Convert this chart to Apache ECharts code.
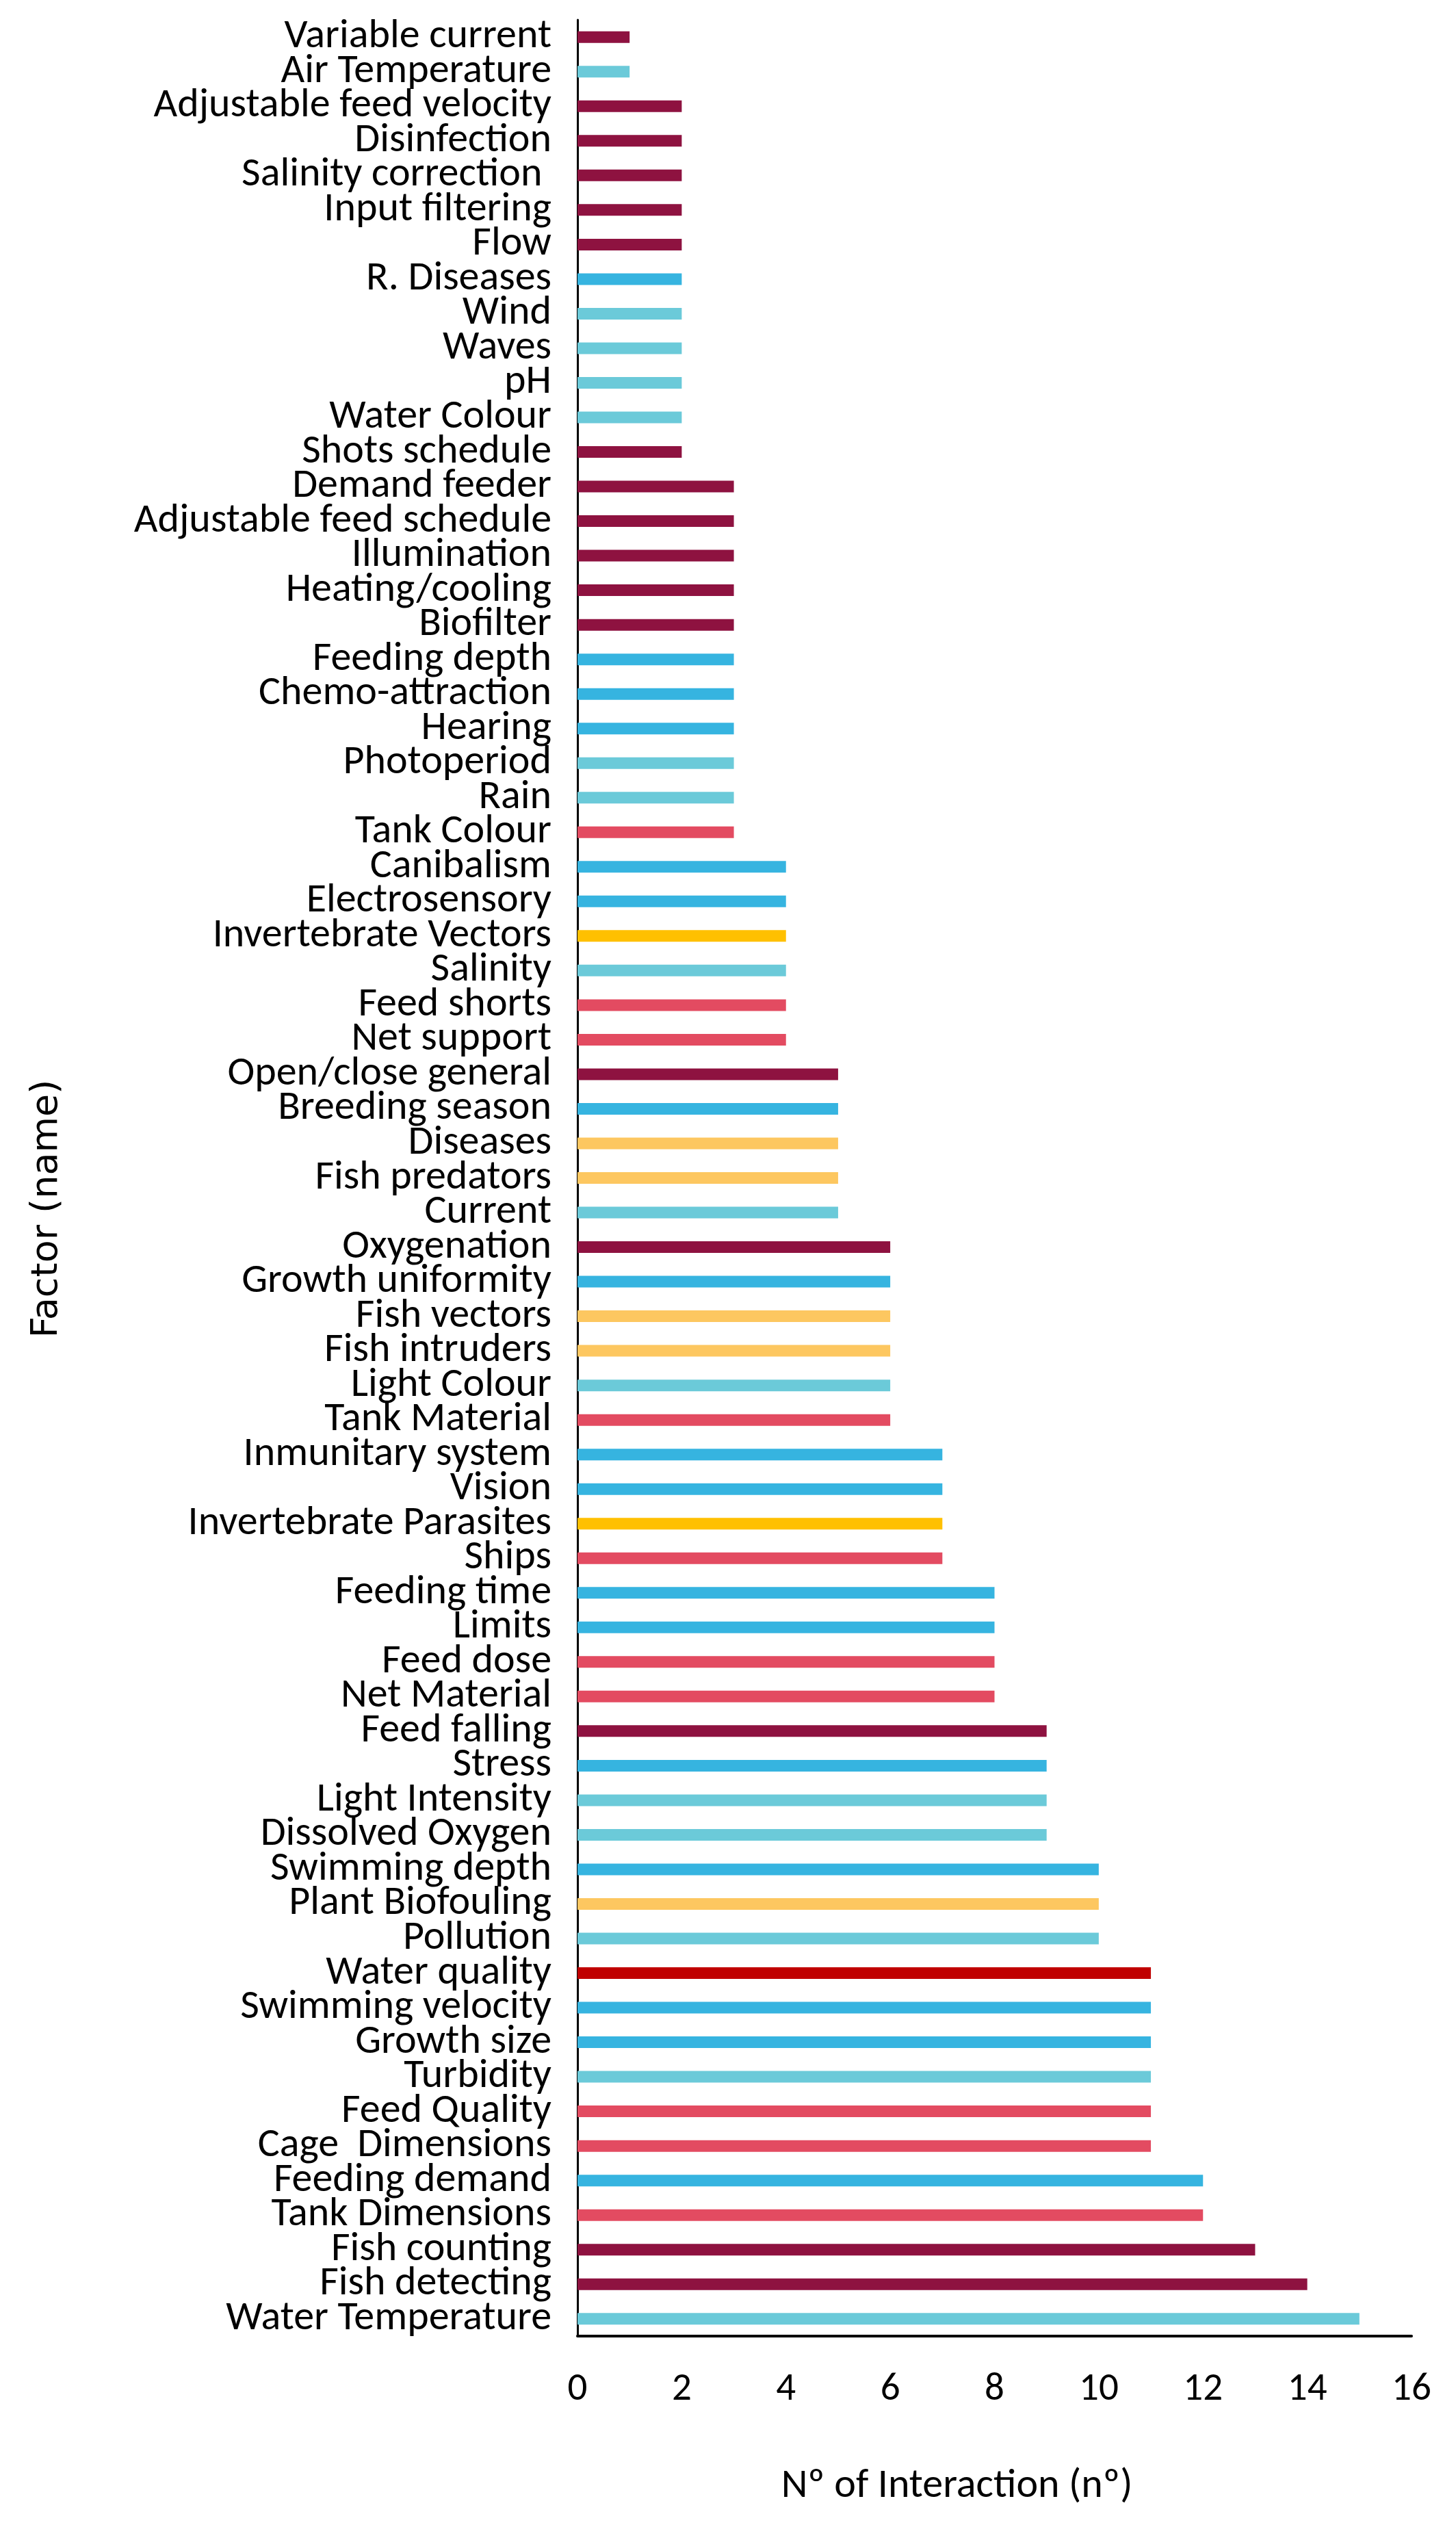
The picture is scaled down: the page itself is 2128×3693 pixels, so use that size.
<!DOCTYPE html>
<html>
<head>
<meta charset="utf-8">
<script src="https://cdn.jsdelivr.net/npm/echarts@6/dist/echarts.min.js"></script>
<style>
html,body{margin:0;padding:0;background:#fff;}
#chart{width:2128px;height:3693px;}
</style>
</head>
<body>
<div id="chart"></div>
<script>
// Factors listed top to bottom as in the figure
const factors = [
  "Variable current", "Air Temperature", "Adjustable feed velocity", "Disinfection",
  "Salinity correction ", "Input filtering", "Flow", "R. Diseases", "Wind", "Waves",
  "pH", "Water Colour", "Shots schedule", "Demand feeder", "Adjustable feed schedule",
  "Illumination", "Heating/cooling", "Biofilter", "Feeding depth", "Chemo-attraction",
  "Hearing", "Photoperiod", "Rain", "Tank Colour", "Canibalism", "Electrosensory",
  "Invertebrate Vectors", "Salinity", "Feed shorts", "Net support", "Open/close general",
  "Breeding season", "Diseases", "Fish predators", "Current", "Oxygenation",
  "Growth uniformity", "Fish vectors", "Fish intruders", "Light Colour", "Tank Material",
  "Inmunitary system", "Vision", "Invertebrate Parasites", "Ships", "Feeding time",
  "Limits", "Feed dose", "Net Material", "Feed falling", "Stress", "Light Intensity",
  "Dissolved Oxygen", "Swimming depth", "Plant Biofouling", "Pollution", "Water quality",
  "Swimming velocity", "Growth size", "Turbidity", "Feed Quality", "Cage  Dimensions",
  "Feeding demand", "Tank Dimensions", "Fish counting", "Fish detecting", "Water Temperature"
];
const interactions = [
  1, 1, 2, 2, 2, 2, 2, 2, 2, 2,
  2, 2, 2, 3, 3, 3, 3, 3, 3, 3,
  3, 3, 3, 3, 4, 4, 4, 4, 4, 4,
  5, 5, 5, 5, 5, 6, 6, 6, 6, 6,
  6, 7, 7, 7, 7, 8, 8, 8, 8, 9,
  9, 9, 9, 10, 10, 10, 11, 11, 11, 11,
  11, 11, 12, 12, 13, 14, 15
];
// factor group: tech = technology, env = environment, bio = biology,
// inst = installation, inv = invertebrate, oth = other organisms, wq = water quality
const groups = [
  "tech", "env", "tech", "tech", "tech", "tech", "tech", "bio", "env", "env",
  "env", "env", "tech", "tech", "tech", "tech", "tech", "tech", "bio", "bio",
  "bio", "env", "env", "inst", "bio", "bio", "inv", "env", "inst", "inst",
  "tech", "bio", "oth", "oth", "env", "tech", "bio", "oth", "oth", "env",
  "inst", "bio", "bio", "inv", "inst", "bio", "bio", "inst", "inst", "tech",
  "bio", "env", "env", "bio", "oth", "env", "wq", "bio", "bio", "env",
  "inst", "inst", "bio", "inst", "tech", "tech", "env"
];
const xTicks = [0, 2, 4, 6, 8, 10, 12, 14, 16];

const groupColors = {
  tech: "#8E1240", env: "#6BCAD9", bio: "#36B4E0", inst: "#E34B61",
  inv: "#FFC000", oth: "#FDC760", wq: "#C00000"
};

const labelFont = "Carlito, 'Liberation Sans Narrow', 'Liberation Sans', sans-serif";

const chart = echarts.init(document.getElementById('chart'), null, {renderer: 'canvas'});
chart.setOption({
  backgroundColor: '#ffffff',
  animation: false,
  grid: {left: 844, right: 65, top: 29, bottom: 279, containLabel: false},
  xAxis: {
    type: 'value',
    min: xTicks[0], max: xTicks[xTicks.length - 1], interval: 2,
    axisLine: {show: true, lineStyle: {color: '#000', width: 4}},
    axisTick: {show: false},
    splitLine: {show: false},
    axisLabel: {color: '#000', fontFamily: labelFont, fontSize: 57, margin: 50},
    name: 'Nº of Interaction (nº)',
    nameLocation: 'middle',
    nameGap: 190,
    nameTextStyle: {color: '#000', fontFamily: labelFont, fontSize: 60, padding: [0, 110, 0, 0]}
  },
  yAxis: {
    type: 'category',
    inverse: true,
    data: factors,
    axisLine: {show: true, lineStyle: {color: '#000', width: 3}},
    axisTick: {show: false},
    splitLine: {show: false},
    axisLabel: {color: '#000', fontFamily: labelFont, fontSize: 60, margin: 38, interval: 0},
    name: 'Factor (name)',
    nameLocation: 'middle',
    nameRotate: 90,
    nameGap: 748,
    nameTextStyle: {color: '#000', fontFamily: "'DejaVu Sans', Verdana, sans-serif", fontSize: 54, padding: [0, 90, 0, 0]}
  },
  series: [{
    type: 'bar',
    barWidth: 17,
    data: interactions.map((v, i) => ({value: v, itemStyle: {color: groupColors[groups[i]]}})),
    label: {show: false}
  }]
});
</script>
</body>
</html>
